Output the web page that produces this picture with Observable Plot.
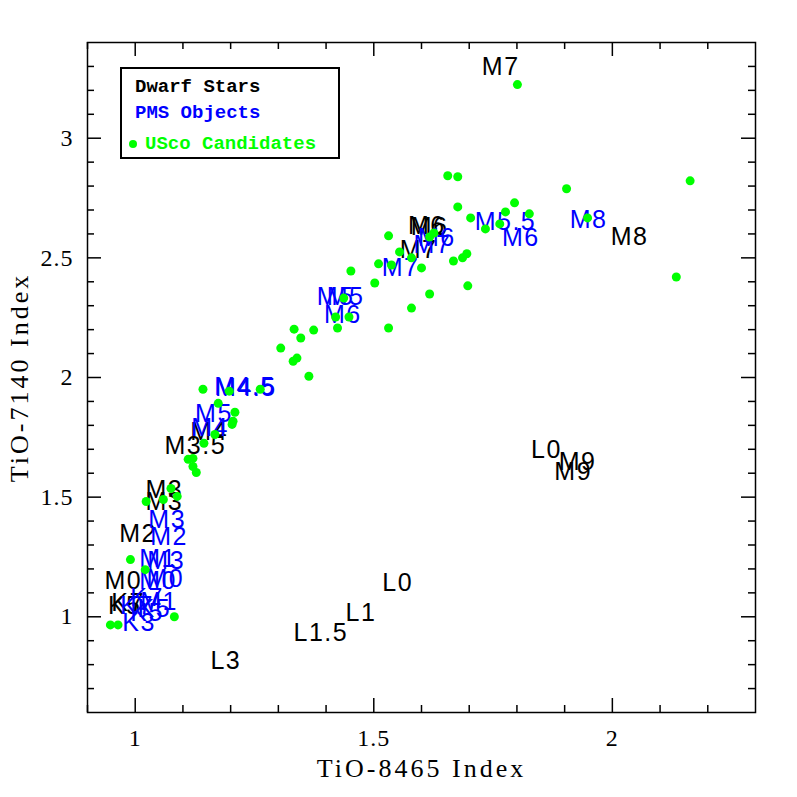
<!DOCTYPE html>
<html><head><meta charset="utf-8">
<script src="https://cdn.jsdelivr.net/npm/d3@7"></script>
<script src="https://cdn.jsdelivr.net/npm/@observablehq/plot@0.6"></script>
<style>
body{margin:0;background:#fff;}
#wrap{position:relative;width:797px;height:797px;}
#legend{position:absolute;left:120px;top:67px;width:216px;height:88px;border:2px solid #000;background:#fff;font-family:"Liberation Mono",monospace;font-weight:bold;font-size:19px;}
#legend div.t{position:absolute;line-height:20px;white-space:nowrap;}
#legend div.d{position:absolute;width:8px;height:8px;border-radius:50%;background:#00ff00;}
g[aria-label="x-axis label"] text, g[aria-label="y-axis label"] text{font-size:26px;letter-spacing:3px;}
g[aria-label="x-axis tick label"] text, g[aria-label="y-axis tick label"] text{letter-spacing:1px;}
g[aria-label="text"] text{letter-spacing:1.5px;}
</style>
</head><body>
<div id="wrap">
<div id="chart"></div>
<div id="legend">
  <div class="t" style="left:13px;top:8px;color:#000">Dwarf Stars</div>
  <div class="t" style="left:13px;top:34px;color:#0000ff">PMS Objects</div>
  <div class="d" style="left:7px;top:71px"></div>
  <div class="t" style="left:23px;top:65px;color:#00ff00">USco Candidates</div>
</div>
</div>
<script>
// Axis ticks
const xMajor = [1, 1.5, 2];
const xMajorLabels = ["1", "1.5", "2"];
const xMinor = [0.9, 1.1, 1.2, 1.3, 1.4, 1.6, 1.7, 1.8, 1.9, 2.1, 2.2];
const yMajor = [1, 1.5, 2, 2.5, 3];
const yMajorLabels = ["1", "1.5", "2", "2.5", "3"];
const yMinor = [0.7, 0.8, 0.9, 1.1, 1.2, 1.3, 1.4, 1.6, 1.7, 1.8, 1.9, 2.1, 2.2, 2.3, 2.4, 2.6, 2.7, 2.8, 2.9, 3.1, 3.2, 3.3];

// USco candidates: TiO-8465, TiO-7140
const uscoX = [1.801, 2.163, 2.134, 1.904, 1.655, 1.676, 1.676, 1.703, 1.734, 1.776, 1.795, 1.764, 1.826, 1.948,
  1.531, 1.554, 1.537, 1.510, 1.579, 1.617, 1.626, 1.600, 1.667, 1.686, 1.695, 1.697, 1.617, 1.579,
  1.452, 1.502, 1.437, 1.420, 1.448, 1.424, 1.531, 1.333, 1.374, 1.347, 1.305, 1.331, 1.339, 1.364,
  1.262, 1.142, 1.197, 1.174, 1.209, 1.205, 1.203, 1.167, 1.144, 1.111, 1.121, 1.121, 1.128,
  1.075, 1.088, 1.059, 1.023, 0.990, 1.021, 1.082, 0.948, 0.964];
const uscoY = [3.224, 2.822, 2.420, 2.789, 2.843, 2.839, 2.713, 2.667, 2.621, 2.692, 2.730, 2.642, 2.684, 2.667,
  2.592, 2.525, 2.470, 2.475, 2.500, 2.587, 2.604, 2.458, 2.487, 2.500, 2.517, 2.383, 2.349, 2.290,
  2.445, 2.395, 2.332, 2.253, 2.253, 2.207, 2.207, 2.202, 2.198, 2.165, 2.123, 2.068, 2.081, 2.005,
  1.951, 1.951, 1.943, 1.892, 1.855, 1.817, 1.804, 1.762, 1.725, 1.658, 1.662, 1.628, 1.603,
  1.536, 1.503, 1.490, 1.482, 1.239, 1.197, 1.000, 0.966, 0.966];

// Dwarf stars (spectral type labels)
const dwarfLabel = ["M7", "M8", "M6", "M6", "M7", "M4", "M3.5", "M3", "M3", "M2", "M0", "K7", "K5",
  "L0", "L1", "L1.5", "L3", "L0", "M9", "M9"];
const dwarfX = [1.766, 2.036, 1.611, 1.617, 1.594, 1.155, 1.126, 1.061, 1.061, 1.006, 0.975, 0.985, 0.978,
  1.550, 1.473, 1.389, 1.190, 1.862, 1.918, 1.927];
const dwarfY = [3.296, 2.588, 2.634, 2.630, 2.533, 1.771, 1.712, 1.528, 1.478, 1.344, 1.151, 1.059, 1.045,
  1.142, 1.017, 0.933, 0.816, 1.695, 1.603, 1.645];

// PMS objects (spectral type labels)
const pmsLabel = ["M8", "M5.5", "M6", "M6", "M7", "M7", "M5", "M5", "M6", "M4.5", "M4.5", "M5", "M4",
  "M3", "M2", "M1", "M3", "M0", "M0", "M1", "K7", "K5", "K5", "K7", "K3"];
const pmsX = [1.950, 1.776, 1.808, 1.632, 1.623, 1.556, 1.420, 1.441, 1.435, 1.230, 1.232, 1.165, 1.157,
  1.067, 1.071, 1.048, 1.065, 1.048, 1.063, 1.050, 1.025, 1.040, 1.025, 1.004, 1.008];
const pmsY = [2.659, 2.651, 2.584, 2.584, 2.555, 2.458, 2.336, 2.336, 2.261, 1.959, 1.955, 1.846, 1.788,
  1.406, 1.335, 1.243, 1.235, 1.151, 1.159, 1.063, 1.080, 1.034, 1.017, 1.046, 0.975];

const W = 797, H = 797, ML = 87, MR = 42, MT = 42, MB = 85;
const plotW = W - ML - MR, plotH = H - MT - MB;
const majorLen = 14, minorLen = 7;

const usco = uscoX.map((x, i) => ({x, y: uscoY[i]}));
const dwarf = dwarfX.map((x, i) => ({x, y: dwarfY[i], label: dwarfLabel[i]}));
const pms = pmsX.map((x, i) => ({x, y: pmsY[i], label: pmsLabel[i]}));

const tickStyle = {stroke: "black", strokeWidth: 1.5};
const labelFont = {fontFamily: "'Liberation Sans', sans-serif", fontSize: 25, textAnchor: "middle", lineAnchor: "middle"};

const chart = Plot.plot({
  width: W, height: H,
  marginLeft: ML, marginRight: MR, marginTop: MT, marginBottom: MB,
  style: {fontFamily: "'Liberation Serif', serif", fontSize: "24px", background: "white", color: "black"},
  x: {domain: [0.9, 2.3], label: null},
  y: {domain: [0.6, 3.4], label: null},
  marks: [
    // inward ticks on all four sides
    Plot.tickX(xMajor, {x: d => d, insetTop: plotH - majorLen, ...tickStyle}),
    Plot.tickX(xMajor, {x: d => d, insetBottom: plotH - majorLen, ...tickStyle}),
    Plot.tickX(xMinor, {x: d => d, insetTop: plotH - minorLen, ...tickStyle}),
    Plot.tickX(xMinor, {x: d => d, insetBottom: plotH - minorLen, ...tickStyle}),
    Plot.tickY(yMajor, {y: d => d, insetRight: plotW - majorLen, ...tickStyle}),
    Plot.tickY(yMajor, {y: d => d, insetLeft: plotW - majorLen, ...tickStyle}),
    Plot.tickY(yMinor, {y: d => d, insetRight: plotW - minorLen, ...tickStyle}),
    Plot.tickY(yMinor, {y: d => d, insetLeft: plotW - minorLen, ...tickStyle}),
    Plot.axisX({anchor: "bottom", ticks: xMajor, tickSize: 0, tickPadding: 16,
      tickFormat: (d, i) => xMajorLabels[i], fontSize: 24,
      label: "TiO-8465 Index", labelAnchor: "center", labelArrow: "none", labelOffset: 64}),
    Plot.axisY({anchor: "left", ticks: yMajor, tickSize: 0, tickPadding: 14,
      tickFormat: (d, i) => yMajorLabels[i], fontSize: 24,
      label: "TiO-7140 Index", labelAnchor: "center", labelArrow: "none", labelOffset: 78}),
    Plot.frame({stroke: "black", strokeWidth: 1.5}),
    Plot.text(dwarf, {x: "x", y: "y", text: "label", fill: "black", ...labelFont}),
    Plot.text(pms, {x: "x", y: "y", text: "label", fill: "#0000ff", ...labelFont}),
    Plot.dot(usco, {x: "x", y: "y", r: 4.5, fill: "#00ff00", stroke: "none"})
  ]
});
document.getElementById("chart").appendChild(chart);
</script>
</body></html>
